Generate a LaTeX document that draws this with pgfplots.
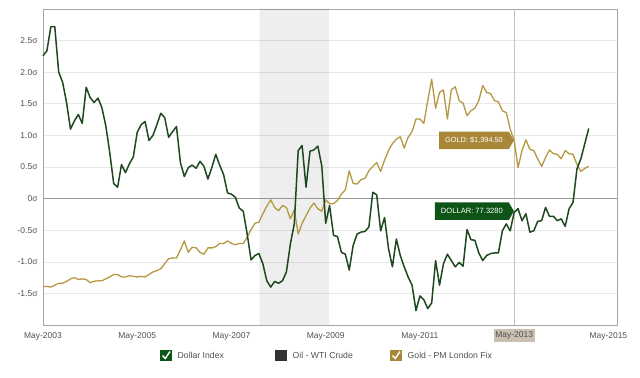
\documentclass[border=0pt]{standalone}
\usepackage{pgfplots}
\pgfplotsset{compat=1.18}
\usepackage{pgfplotstable}
\usepackage{fontspec}
\setmainfont{Liberation Sans}
\usetikzlibrary{shapes.symbols}
\definecolor{dollarc}{RGB}{30,72,30}
\definecolor{dollarbox}{RGB}{14,84,22}
\definecolor{goldc}{RGB}{182,152,66}
\definecolor{goldbox}{RGB}{168,136,56}
\definecolor{tickc}{RGB}{80,80,80}
\definecolor{gridc}{RGB}{232,232,232}
\definecolor{zeroc}{RGB}{150,150,150}
\definecolor{vlinec}{RGB}{200,196,180}
\definecolor{tanc}{RGB}{200,193,176}
\definecolor{oilc}{RGB}{50,50,50}

% months since May-2003, standardized dollar index and gold (sigma)
\pgfplotstableread{
m dollar gold
0 2.26 -1.39
1 2.34 -1.39
2 2.72 -1.40
3 2.72 -1.37
4 2.00 -1.34
5 1.84 -1.34
6 1.52 -1.31
7 1.10 -1.27
8 1.23 -1.25
9 1.33 -1.28
10 1.19 -1.27
11 1.76 -1.28
12 1.60 -1.33
13 1.52 -1.31
14 1.59 -1.30
15 1.44 -1.30
16 1.15 -1.27
17 0.73 -1.24
18 0.24 -1.20
19 0.18 -1.20
20 0.54 -1.24
21 0.41 -1.24
22 0.55 -1.22
23 0.66 -1.23
24 1.05 -1.24
25 1.17 -1.23
26 1.22 -1.24
27 0.92 -1.20
28 1.00 -1.16
29 1.17 -1.14
30 1.35 -1.11
31 1.28 -1.03
32 0.97 -0.95
33 1.06 -0.94
34 1.14 -0.94
35 0.57 -0.81
36 0.35 -0.67
37 0.49 -0.85
38 0.53 -0.77
39 0.48 -0.78
40 0.59 -0.85
41 0.51 -0.88
42 0.31 -0.78
43 0.49 -0.78
44 0.70 -0.76
45 0.53 -0.71
46 0.38 -0.71
47 0.09 -0.67
48 0.07 -0.71
49 0.02 -0.73
50 -0.15 -0.71
51 -0.20 -0.71
52 -0.56 -0.61
53 -0.97 -0.49
54 -0.90 -0.39
55 -0.87 -0.37
56 -1.03 -0.24
57 -1.30 -0.12
58 -1.40 -0.02
59 -1.31 -0.14
60 -1.34 -0.19
61 -1.30 -0.11
62 -1.16 -0.14
63 -0.72 -0.32
64 -0.40 -0.18
65 0.76 -0.56
66 0.84 -0.39
67 0.18 -0.27
68 0.75 -0.15
69 0.77 -0.07
70 0.83 -0.16
71 0.52 -0.20
72 -0.39 -0.02
73 -0.11 -0.08
74 -0.58 -0.08
75 -0.60 -0.03
76 -0.85 0.07
77 -0.88 0.14
78 -1.13 0.44
79 -0.74 0.24
80 -0.56 0.23
81 -0.53 0.30
82 -0.52 0.32
83 -0.45 0.44
84 0.10 0.51
85 0.06 0.57
86 -0.51 0.43
87 -0.30 0.61
88 -0.79 0.76
89 -1.08 0.87
90 -0.64 0.94
91 -0.90 0.98
92 -1.08 0.80
93 -1.24 0.97
94 -1.37 1.06
95 -1.77 1.26
96 -1.54 1.26
97 -1.60 1.19
98 -1.74 1.55
99 -1.65 1.89
100 -0.98 1.43
101 -1.37 1.68
102 -1.03 1.72
103 -0.88 1.26
104 -0.98 1.72
105 -1.08 1.77
106 -1.01 1.55
107 -1.07 1.51
108 -0.49 1.31
109 -0.65 1.39
110 -0.66 1.43
111 -0.86 1.55
112 -0.98 1.79
113 -0.90 1.68
114 -0.87 1.66
115 -0.86 1.55
116 -0.86 1.53
117 -0.51 1.39
118 -0.40 1.36
119 -0.51 1.10
120 -0.22 0.92
121 -0.16 0.49
122 -0.35 0.76
123 -0.24 0.93
124 -0.53 0.78
125 -0.51 0.76
126 -0.36 0.63
127 -0.35 0.51
128 -0.14 0.65
129 -0.28 0.77
130 -0.28 0.71
131 -0.35 0.70
132 -0.32 0.63
133 -0.44 0.76
134 -0.16 0.71
135 -0.06 0.70
136 0.47 0.54
137 0.63 0.43
138 0.87 0.48
139 1.11 0.51
}\datatable

\begin{document}
\begin{tikzpicture}
\begin{axis}[
  name=ax,
  at={(0,0)}, anchor=south west,
  scale only axis,
  width=574bp, height=316bp,
  xmin=0, xmax=146.2, ymin=-2, ymax=3,
  xtick={0,24,48,72,96,144},
  xticklabels={May-2003,May-2005,May-2007,May-2009,May-2011,May-2015},
  extra x ticks={120},
  extra x tick labels={May-2013},
  extra x tick style={grid=none, tick label style={fill=tanc, inner xsep=1.8bp, inner ysep=2.6bp, yshift=0.5bp}},
  ytick={-1.5,-1,-0.5,0,0.5,1,1.5,2,2.5},
  yticklabels={-1.5σ,-1.0σ,-0.5σ,0σ,0.5σ,1.0σ,1.5σ,2.0σ,2.5σ},
  ymajorgrids, major grid style={draw=gridc, line width=0.6bp},
  major tick length=0pt,
  axis line style={draw=gray!70, line width=0.8bp},
  tick label style={font=\fontsize{8.5}{10}\selectfont, text=tickc},
  yticklabel style={xshift=-2bp},
  xticklabel style={yshift=-4.5bp},
  clip=false,
]
\addplot[fill=black, fill opacity=0.065, draw=none] coordinates {(55.1,-2) (72.9,-2) (72.9,3) (55.1,3)} \closedcycle;
\addplot[draw=zeroc, line width=0.8bp] coordinates {(0,0) (146.2,0)};
\addplot[draw=vlinec, line width=0.7bp] coordinates {(120,-2) (120,3)};
\addplot[draw=goldc, line width=1.3bp, line join=round] table[x=m, y=gold] {\datatable};
\addplot[draw=dollarc, line width=1.5bp, line join=round] table[x=m, y=dollar] {\datatable};
\node[signal, signal to=east, signal pointer angle=120, fill=goldbox, text=white, anchor=east,
  font=\fontsize{7.4}{8}\selectfont, inner xsep=6bp, minimum height=17.5bp] at (axis cs:120,0.92) {GOLD: \$1,394.50};
\node[signal, signal to=east, signal pointer angle=120, fill=dollarbox, text=white, anchor=east,
  font=\fontsize{7.6}{8}\selectfont, inner xsep=6bp, minimum height=17.5bp] at (axis cs:120,-0.2) {DOLLAR: 77.3280};
\end{axis}
\path (ax.south west) ++(-43bp,-53bp) rectangle ++(640bp,378bp);
\begin{scope}[shift={(ax.south west)}, x=1bp, y=1bp]
  \fill[dollarbox] (117,-36) rectangle (129,-24.5);
  \draw[white, line width=1.4bp] (119.5,-30.5) -- (122.3,-33.5) -- (127,-26.5);
  \node[anchor=west, text=tickc, font=\fontsize{8.7}{10}\selectfont, inner sep=0pt] at (134.5,-30.5) {Dollar Index};
  \fill[oilc] (232,-36) rectangle (244,-24.5);
  \node[anchor=west, text=tickc, font=\fontsize{8.7}{10}\selectfont, inner sep=0pt] at (249.5,-30.5) {Oil - WTI Crude};
  \fill[goldbox] (347,-36) rectangle (359,-24.5);
  \draw[white, line width=1.4bp] (349.5,-30.5) -- (352.3,-33.5) -- (357,-26.5);
  \node[anchor=west, text=tickc, font=\fontsize{8.7}{10}\selectfont, inner sep=0pt] at (364.5,-30.5) {Gold - PM London Fix};
\end{scope}
\end{tikzpicture}
\end{document}
